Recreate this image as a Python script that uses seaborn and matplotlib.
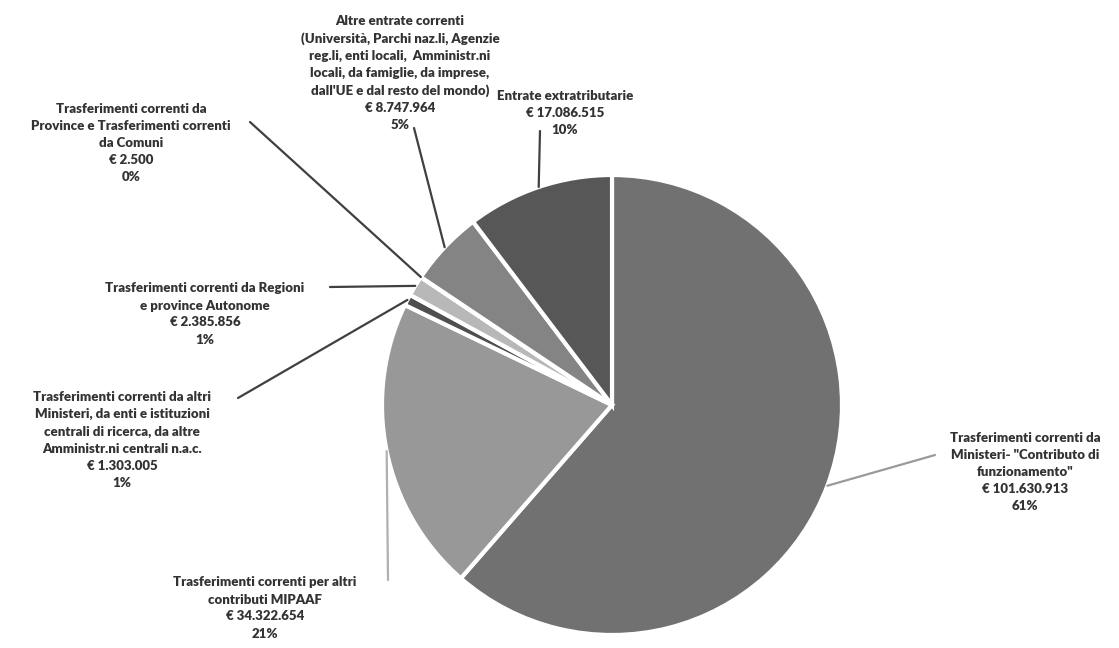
import matplotlib.pyplot as plt
import numpy as np
import seaborn as sns

# slices, clockwise from the top
labels = [
    'Trasferimenti correnti da\nMinisteri- "Contributo di\nfunzionamento"',
    "Trasferimenti correnti per altri\ncontributi MIPAAF",
    "Trasferimenti correnti da altri\nMinisteri, da enti e istituzioni\ncentrali di ricerca, da altre\nAmministr.ni centrali n.a.c.",
    "Trasferimenti correnti da Regioni\ne province Autonome",
    "Trasferimenti correnti da\nProvince e Trasferimenti correnti\nda Comuni",
    "Altre entrate correnti\n(Università, Parchi naz.li, Agenzie\nreg.li, enti locali,  Amministr.ni\nlocali, da famiglie, da imprese,\ndall'UE e dal resto del mondo)",
    "Entrate extratributarie",
]
values = [101630913, 34322654, 1303005, 2385856, 2500, 8747964, 17086515]
colors = ["#717171", "#989898", "#4f4f4f", "#b8b8b8", "#8a8a8a", "#848484", "#575757"]

# layout (pixels from the top-left of the image)
text_pos = [(1025, 472), (265, 608), (122, 440), (205, 314), (131, 143), (400, 73), (565, 113)]
line_start = [(935, 455), (388, 580), (238, 398), (330, 287), (250, 122), (414, 128), (540, 131)]
line_colors = ["#9a9a9a", "#b0b0b0", "#404040", "#404040", "#404040", "#404040", "#404040"]

W, H = 1119, 648
cx, cy, r = 612, 405, 230

sns.set_theme(style="white")
plt.rcParams["font.family"] = ["Lato", "DejaVu Sans"]

fig = plt.figure(figsize=(W / 100, H / 100), dpi=100)
ax = fig.add_axes([0, 0, 1, 1])

wedges, _ = ax.pie(
    values,
    colors=colors,
    startangle=90,
    counterclock=False,
    center=(cx, H - cy),
    radius=r,
    wedgeprops=dict(edgecolor="white", linewidth=3),
)
ax.set_xlim(0, W)
ax.set_ylim(0, H)
ax.set_aspect("equal")
ax.axis("off")

total = sum(values)
for w, lab, v, (tx, ty), (sx, sy), lc in zip(
    wedges, labels, values, text_pos, line_start, line_colors
):
    pct = round(100 * v / total)
    euro = "€ " + f"{v:,}".replace(",", ".")
    ax.text(
        tx, H - ty, f"{lab}\n{euro}\n{pct}%",
        ha="center", va="center", multialignment="center",
        fontsize=9.5, fontweight="heavy", color="#333333", linespacing=1.5,
    )
    mid = np.deg2rad((w.theta1 + w.theta2) / 2)
    ex = cx + r * np.cos(mid)
    ey = H - cy + r * np.sin(mid)
    ax.plot([sx, ex], [H - sy, ey], color=lc, lw=1.6, solid_capstyle="round")

fig.savefig("out.png", dpi=100, facecolor="white")
